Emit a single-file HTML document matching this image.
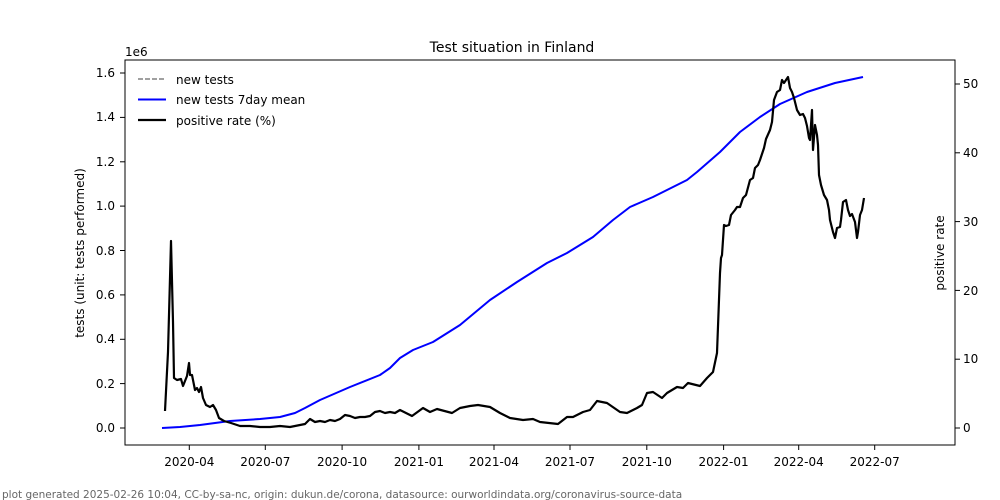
<!DOCTYPE html>
<html><head><meta charset="utf-8"><style>
body{margin:0;background:#fff;}
svg{display:block;font-family:"DejaVu Sans","Liberation Sans",sans-serif;}
</style></head><body>
<svg width="1000" height="500" viewBox="0 0 1000 500" xmlns="http://www.w3.org/2000/svg">
<rect width="1000" height="500" fill="#fff"/>
<text x="512" y="52" font-size="14" text-anchor="middle">Test situation in Finland</text>
<text x="125" y="56" font-size="12">1e6</text>
<g font-size="12" text-anchor="end" fill="#000">
<text x="115" y="432">0.0</text>
<text x="115" y="388">0.2</text>
<text x="115" y="343">0.4</text>
<text x="115" y="299">0.6</text>
<text x="115" y="255">0.8</text>
<text x="115" y="210">1.0</text>
<text x="115" y="166">1.2</text>
<text x="115" y="121">1.4</text>
<text x="115" y="77">1.6</text>
</g>
<g stroke="#000" stroke-width="1">
<line x1="120" y1="428" x2="125" y2="428"/><line x1="120" y1="383.6" x2="125" y2="383.6"/><line x1="120" y1="339.3" x2="125" y2="339.3"/><line x1="120" y1="294.9" x2="125" y2="294.9"/><line x1="120" y1="250.5" x2="125" y2="250.5"/><line x1="120" y1="206.1" x2="125" y2="206.1"/><line x1="120" y1="161.8" x2="125" y2="161.8"/><line x1="120" y1="117.4" x2="125" y2="117.4"/><line x1="120" y1="73" x2="125" y2="73"/>
<line x1="955" y1="428" x2="960" y2="428"/><line x1="955" y1="359.2" x2="960" y2="359.2"/><line x1="955" y1="290.4" x2="960" y2="290.4"/><line x1="955" y1="221.6" x2="960" y2="221.6"/><line x1="955" y1="152.8" x2="960" y2="152.8"/><line x1="955" y1="84" x2="960" y2="84"/>
<line x1="189.3" y1="445" x2="189.3" y2="450"/><line x1="265.3" y1="445" x2="265.3" y2="450"/><line x1="342.1" y1="445" x2="342.1" y2="450"/><line x1="418.9" y1="445" x2="418.9" y2="450"/><line x1="494" y1="445" x2="494" y2="450"/><line x1="570" y1="445" x2="570" y2="450"/><line x1="646.8" y1="445" x2="646.8" y2="450"/><line x1="723.6" y1="445" x2="723.6" y2="450"/><line x1="798.7" y1="445" x2="798.7" y2="450"/><line x1="874.7" y1="445" x2="874.7" y2="450"/>
</g>
<g font-size="12" fill="#000">
<text x="963" y="432">0</text><text x="963" y="363">10</text><text x="963" y="295">20</text><text x="963" y="226">30</text><text x="963" y="157">40</text><text x="963" y="88">50</text>
</g>
<g font-size="12" text-anchor="middle">
<text x="189.3" y="466">2020-04</text><text x="265.3" y="466">2020-07</text><text x="342.1" y="466">2020-10</text><text x="418.9" y="466">2021-01</text><text x="494" y="466">2021-04</text><text x="570" y="466">2021-07</text><text x="646.8" y="466">2021-10</text><text x="723.6" y="466">2022-01</text><text x="798.7" y="466">2022-04</text><text x="874.7" y="466">2022-07</text>
</g>
<text transform="translate(84,253) rotate(-90)" font-size="12" text-anchor="middle">tests (unit: tests performed)</text>
<text transform="translate(944,253) rotate(-90)" font-size="12" text-anchor="middle">positive rate</text>
<polyline fill="none" stroke="#0000ff" stroke-width="2" stroke-linejoin="round" points="162,428 180,427 200,425 230,421 260,419 280,417 295,413 305,408 320,400 350,387 380,375 390,368 400,358 413,350 433,342 460,325 490,300 517,282 547,263 567,253 593,237 613,220 630,207 653,197 687,180 697,172 720,152 740,132 760,117 780,104 807,92 835,83 863,77"/>
<polyline fill="none" stroke="#000" stroke-width="2.2" stroke-linejoin="round" points="165,411 168,352 171,241 173,322 174,378 177,380 181,379 183,386 187,376 189,363 190,375 192,375 195,390 197,388 199,392 201,387 203,398 206,405 210,407 213,405 216,410 219,418 224,421 231,423 240,426 250,426 260,427 270,427 280,426 290,427 300,425 305,424 310,419 315,422 320,421 325,422 330,420 335,421 340,419 345,415 350,416 355,418 360,417 365,417 370,416 375,412 380,411 385,413 390,412 395,413 400,410 406,413 412,416 423,408 430,412 437,409 452,413 460,408 470,406 478,405 490,407 500,413 510,418 523,420 533,419 540,422 558,424 567,417 573,417 583,412 590,410 597,401 607,403 620,412 627,413 637,408 642,405 647,393 653,392 662,398 667,393 677,387 683,388 688,383 700,386 707,378 713,372 717,353 720,273 721,258 722,255 724,225 726,226 729,225 731,215 735,210 737,207 740,207 743,198 746,195 750,180 753,178 755,168 758,165 760,160 764,148 766,139 770,130 772,122 774,100 777,92 780,90 782,80 784,83 788,77 790,88 792,92 794,98 797,110 800,115 803,114 805,118 807,126 809,138 810,140 812,110 813,150 815,125 817,135 818,145 819,175 821,185 824,195 827,200 829,210 830,220 833,232 835,238 837,228 840,227 841,220 843,202 846,200 848,210 850,216 852,214 855,222 857,238 858,232 860,215 862,210 864,198"/>
<rect x="125" y="60" width="830" height="385" fill="none" stroke="#000" stroke-width="1"/>
<line x1="138" y1="79" x2="166" y2="79" stroke="#808080" stroke-width="1.5" stroke-dasharray="5,2"/>
<line x1="138" y1="99.5" x2="166" y2="99.5" stroke="#0000ff" stroke-width="2"/>
<line x1="138" y1="120" x2="166" y2="120" stroke="#000" stroke-width="2.2"/>
<g font-size="12"><text x="176" y="84">new tests</text><text x="176" y="104">new tests 7day mean</text><text x="176" y="125">positive rate (%)</text></g>
<text x="2" y="498" font-size="10.5" fill="#666">plot generated 2025-02-26 10:04, CC-by-sa-nc, origin: dukun.de/corona, datasource: ourworldindata.org/coronavirus-source-data</text>
</svg>
</body></html>
